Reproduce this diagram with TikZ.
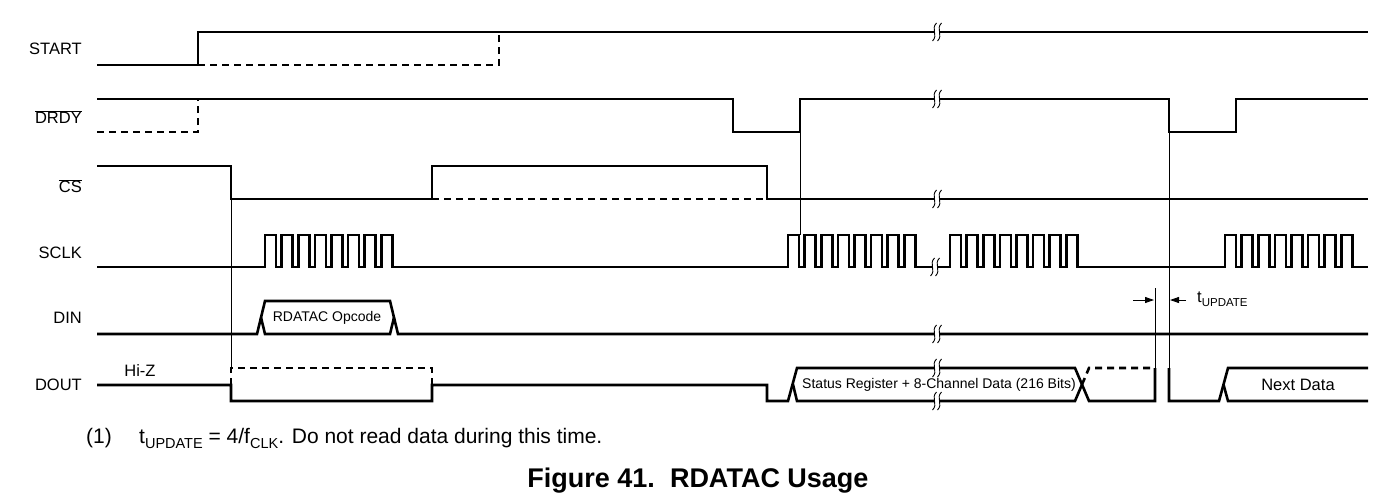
\documentclass[tikz,border=0pt]{standalone}
\usepackage{fontspec}
\setmainfont{Liberation Sans}
\usetikzlibrary{arrows.meta}
\newcommand\ovl[1]{$\overline{\hbox{#1}}$}
\tikzset{
  sig/.style={line width=2.6pt, line join=miter},
  dsig/.style={line width=2.6pt, dash pattern=on 7pt off 5pt},
  guide/.style={line width=0.9pt},
  lbl/.style={anchor=east, font=\fontsize{16.5}{18}\selectfont, inner sep=0pt},
  buslbl/.style={font=\fontsize{14}{16}\selectfont, inner sep=0pt},
  tarrow/.style={line width=0.9pt, -{Triangle[length=9pt,width=6pt]}},
  brk/.pic={
    \fill[white] (-0.5,-9) .. controls (-6.5,-3) and (1.5,3) .. (-4.5,9) -- (0.5,9)
       .. controls (6.5,3) and (-1.5,-3) .. (4.5,-9) -- cycle;
    \draw[line width=0.9pt] (-0.5,-9) .. controls (-6.5,-3) and (1.5,3) .. (-4.5,9);
    \draw[line width=0.9pt] (4.5,-9) .. controls (-1.5,-3) and (6.5,3) .. (0.5,9);
  }
}
\begin{document}
\begin{tikzpicture}[x=1pt,y=-1pt]
\useasboundingbox[fill=white] (0,0) rectangle (1384,499);

% labels
\node[lbl] (lstart) at (82,49) {START};
\node[lbl] (ldrdy) at (82,117) {\ovl{DRDY}};
\node[lbl] (lcs) at (82,186) {\ovl{CS}};
\node[lbl] (lsclk) at (82,253) {SCLK};
\node[lbl] (ldin) at (82,318) {DIN};
\node[lbl] (ldout) at (82,385) {DOUT};
\node[font=\fontsize{16.5}{18}\selectfont, inner sep=0pt] (hiz) at (140,371) {Hi-Z};

% START
\draw[sig] (97,65) -- (198,65) -- (198,32) -- (1368,32);
\draw[dsig] (198,65) -- (499,65) -- (499,32);

% DRDY
\draw[sig] (97,99) -- (733,99) -- (733,132) -- (800,132) -- (800,99) -- (1169,99)
  -- (1169,132) -- (1236,132) -- (1236,99) -- (1368,99);
\draw[dsig] (97,132) -- (198,132) -- (198,99);

% CS
\draw[sig] (97,166) -- (231,166) -- (231,199) -- (432,199) -- (432,166) -- (767,166)
  -- (767,199) -- (1368,199);
\draw[dsig] (432,199) -- (767,199);

% SCLK
\draw[sig] (97,267) -- (265,267)
  \foreach \k in {0,...,7}{ -- ++(0,-32) -- ++(11,0) -- ++(0,32) -- ++(5.6,0)}
  -- (788,267)
  \foreach \k in {0,...,7}{ -- ++(0,-32) -- ++(11,0) -- ++(0,32) -- ++(5.6,0)}
  -- (950,267)
  \foreach \k in {0,...,7}{ -- ++(0,-32) -- ++(11,0) -- ++(0,32) -- ++(5.6,0)}
  -- (1225,267)
  \foreach \k in {0,...,7}{ -- ++(0,-32) -- ++(11,0) -- ++(0,32) -- ++(5.6,0)}
  -- (1368,267);

% DIN
\draw[sig] (97,334) -- (257,334) -- (265,301) -- (390,301) -- (398,334) -- (1368,334);
\draw[sig] (261,317.5) -- (265,334) -- (390,334) -- (394,317.5);
\node[buslbl] (opc) at (327,318) {RDATAC Opcode};

% DOUT
\draw[sig] (97,385) -- (231,385) -- (231,401) -- (432,401) -- (432,385) -- (767,385)
  -- (767,401) -- (788,401) -- (797,368) -- (1075,368) -- (1089,401) -- (1155,401) -- (1155,368);
\draw[sig] (793,384.5) -- (797,401) -- (1075,401) -- (1082,384.5);
\draw[dsig] (231,385) -- (231,368) -- (432,368) -- (432,385);
\draw[dsig] (1082,384.5) -- (1089,368) -- (1155,368);
\draw[sig] (1169,368) -- (1169,401) -- (1219,401) -- (1228,368) -- (1368,368);
\draw[sig] (1223.5,384.5) -- (1228,401) -- (1368,401);
\node[buslbl] (data) at (939,385) {Status Register + 8-Channel Data (216 Bits)};
\node[font=\fontsize{16.5}{18}\selectfont, inner sep=0pt] (next) at (1298,385) {Next Data};

% guide lines
\coordinate (g1a) at (231,199); \coordinate (g1b) at (231,368);
\coordinate (g2a) at (800,132); \coordinate (g2b) at (800,235);
\coordinate (g3a) at (1169,132); \coordinate (g3b) at (1169,368);
\coordinate (g4a) at (1155,288); \coordinate (g4b) at (1155,368);
\draw[guide] (g1a) -- (g1b);
\draw[guide] (g2a) -- (g2b);
\draw[guide] (g3a) -- (g3b);
\draw[guide] (g4a) -- (g4b);

% t_UPDATE arrows
\coordinate (a1) at (1133,300); \coordinate (a1t) at (1154,300);
\coordinate (a2) at (1186,300); \coordinate (a2t) at (1170,300);
\draw[tarrow] (a1) -- (a1t);
\draw[tarrow] (a2) -- (a2t);
\node[anchor=west, inner sep=0pt] (tupd) at (1197,299)
  {\fontsize{16.5}{18}\selectfont t\fontsize{11.5}{12}\selectfont\raisebox{-4pt}{UPDATE}};

% break marks
\pic at (937,32) {brk};
\pic at (937,99) {brk};
\pic at (937,199) {brk};
\pic at (935,267) {brk};
\pic at (937,334) {brk};
\pic at (937,368) {brk};
\pic at (937,401) {brk};

% footnote and caption
\node[anchor=west, inner sep=0pt, font=\fontsize{21}{24}\selectfont] (fn1) at (86,438) {(1)};
\node[anchor=west, inner sep=0pt, font=\fontsize{21}{24}\selectfont] (fn2) at (139,438)
  {t\fontsize{14.5}{16}\selectfont\raisebox{-5pt}{UPDATE}\fontsize{21}{24}\selectfont{} = 4/f\fontsize{14.5}{16}\selectfont\raisebox{-5pt}{CLK}\fontsize{21}{24}\selectfont. Do not read data during this time.};
\node[inner sep=0pt, font=\bfseries\fontsize{27}{30}\selectfont] (title) at (698,481) {Figure 41.\ \ RDATAC Usage};
\end{tikzpicture}
\end{document}
